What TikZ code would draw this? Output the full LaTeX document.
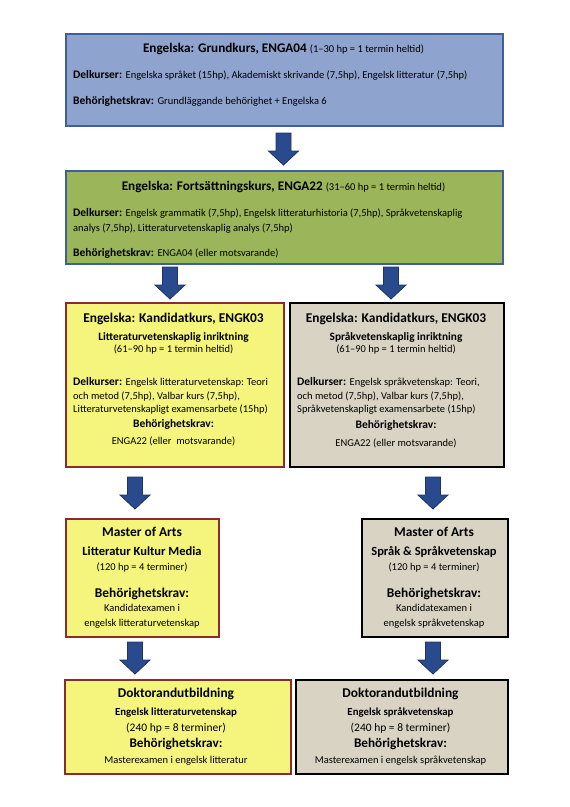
\documentclass[tikz,border=0pt]{standalone}
\usepackage{fontspec}
\setmainfont{Carlito}
\usetikzlibrary{calc}
\definecolor{bluefill}{HTML}{8EA3CD}
\definecolor{blueline}{HTML}{3F5E9E}
\definecolor{greenfill}{HTML}{9BB55A}
\definecolor{yelfill}{HTML}{F5F57D}
\definecolor{redline}{HTML}{8B2C2C}
\definecolor{beigefill}{HTML}{D9D3C3}
\definecolor{arrowfill}{HTML}{2A4A8E}
\definecolor{arrowline}{HTML}{1C3366}
\newcommand{\fs}[1]{\fontsize{#1}{#1}\selectfont}
\newcommand{\blockarrow}[1]{%
  \draw[blockarrow] (#1) ++(-7.5,0) -- ++(15,0) -- ++(0,18) -- ++(7.5,0)
    -- ++(-15,14) -- ++(-15,-14) -- ++(7.5,0) -- cycle;}
\begin{document}
\begin{tikzpicture}[x=1pt,y=-1pt,
  box/.style={draw, line width=1.6pt, inner sep=0pt, anchor=north west},
  bluebox/.style={box, fill=bluefill, draw=blueline},
  greenbox/.style={box, fill=greenfill, draw=blueline},
  yelbox/.style={box, fill=yelfill, draw=redline},
  beigebox/.style={box, fill=beigefill, draw=black},
  txt/.style={anchor=base, inner sep=0pt},
  ltxt/.style={anchor=base west, inner sep=0pt},
  blockarrow/.style={fill=arrowfill, draw=arrowline, line width=0.8pt, line join=miter}
]
\useasboundingbox (0,0) rectangle (570,807);

% boxes
\node[bluebox, minimum width=437pt, minimum height=92pt] (b1) at (65,33) {};
\node[greenbox, minimum width=437pt, minimum height=93pt] (b2) at (65,170) {};
\node[yelbox, minimum width=218pt, minimum height=164pt] (k1) at (65,302) {};
\node[beigebox, minimum width=214pt, minimum height=164pt] (k2) at (289,302) {};
\node[yelbox, minimum width=153pt, minimum height=118pt] (m1) at (65,518) {};
\node[beigebox, minimum width=146pt, minimum height=118pt] (m2) at (361,518) {};
\node[yelbox, minimum width=226pt, minimum height=94pt] (d1) at (64,679) {};
\node[beigebox, minimum width=212pt, minimum height=94pt] (d2) at (295,679) {};

% box 1
\node[txt] (b1t) at (283.5,52.5) {\fs{13.2}\bfseries Engelska: Grundkurs, ENGA04 \fs{10.5}\mdseries(1–30 hp = 1 termin heltid)};
\node[ltxt] (b1d) at (73,78.5) {\fs{11.5}\textbf{Delkurser:} \fs{10.5}Engelska språket (15hp), Akademiskt skrivande (7,5hp), Engelsk litteratur (7,5hp)};
\node[ltxt] (b1b) at (73,104.5) {\fs{11.5}\textbf{Behörighetskrav:} \fs{10.5}Grundläggande behörighet + Engelska 6};

% box 2
\node[txt] (b2t) at (283.5,190.5) {\fs{13.2}\bfseries Engelska: Fortsättningskurs, ENGA22 \fs{10.5}\mdseries(31–60 hp = 1 termin heltid)};
\node[ltxt] (b2d) at (73,216.5) {\fs{11.5}\textbf{Delkurser:} \fs{10.5}Engelsk grammatik (7,5hp), Engelsk litteraturhistoria (7,5hp), Språkvetenskaplig};
\node[ltxt] (b2e) at (73,231.5) {\fs{10.5}analys (7,5hp), Litteraturvetenskaplig analys (7,5hp)};
\node[ltxt] (b2b) at (73,256.5) {\fs{11.5}\textbf{Behörighetskrav:} \fs{10.5}ENGA04 (eller motsvarande)};

% kandidat left
\node[txt] (k1t) at (173.5,322.5) {\fs{13.4}\bfseries Engelska: Kandidatkurs, ENGK03};
\node[txt] (k1s) at (173.5,340) {\fs{11.3}\bfseries Litteraturvetenskaplig inriktning};
\node[txt] (k1h) at (173.5,352.5) {\fs{10.5}(61–90 hp = 1 termin heltid)};
\node[ltxt] (k1d1) at (73,385.5) {\fs{11.5}\textbf{Delkurser:} \fs{10.5}Engelsk litteraturvetenskap: Teori};
\node[ltxt] (k1d2) at (73,399) {\fs{10.5}och metod (7,5hp), Valbar kurs (7,5hp),};
\node[ltxt] (k1d3) at (73,412.5) {\fs{10.5}Litteraturvetenskapligt examensarbete (15hp)};
\node[txt] (k1b) at (173.5,427) {\fs{11.5}\bfseries Behörighetskrav:};
\node[txt] (k1e) at (173.5,444.5) {\fs{10.5}ENGA22 (eller\ \ motsvarande)};

% kandidat right
\node[txt] (k2t) at (396,322.5) {\fs{13.4}\bfseries Engelska: Kandidatkurs, ENGK03};
\node[txt] (k2s) at (396,340) {\fs{11.3}\bfseries Språkvetenskaplig inriktning};
\node[txt] (k2h) at (396,352.5) {\fs{10.5}(61–90 hp = 1 termin heltid)};
\node[ltxt] (k2d1) at (297,385.5) {\fs{11.5}\textbf{Delkurser:} \fs{10.5}Engelsk språkvetenskap: Teori,};
\node[ltxt] (k2d2) at (297,399) {\fs{10.5}och metod (7,5hp), Valbar kurs (7,5hp),};
\node[ltxt] (k2d3) at (297,412.5) {\fs{10.5}Språkvetenskapligt examensarbete (15hp)};
\node[txt] (k2b) at (396,428.5) {\fs{11.5}\bfseries Behörighetskrav:};
\node[txt] (k2e) at (396,446) {\fs{10.5}ENGA22 (eller motsvarande)};

% master left
\node[txt] (m1t) at (142,536.5) {\fs{13.4}\bfseries Master of Arts};
\node[txt] (m1s) at (142,555) {\fs{12.5}\bfseries Litteratur Kultur Media};
\node[txt] (m1h) at (142,570.5) {\fs{10.5}(120 hp = 4 terminer)};
\node[txt] (m1b) at (142,597.5) {\fs{13.4}\bfseries Behörighetskrav:};
\node[txt] (m1e) at (142,611.5) {\fs{10.5}Kandidatexamen i};
\node[txt] (m1f) at (142,626.5) {\fs{10.5}engelsk litteraturvetenskap};

% master right
\node[txt] (m2t) at (434,536.5) {\fs{13.4}\bfseries Master of Arts};
\node[txt] (m2s) at (434,555) {\fs{12.5}\bfseries Språk \& Språkvetenskap};
\node[txt] (m2h) at (434,570.5) {\fs{10.5}(120 hp = 4 terminer)};
\node[txt] (m2b) at (434,597.5) {\fs{13.4}\bfseries Behörighetskrav:};
\node[txt] (m2e) at (434,611.5) {\fs{10.5}Kandidatexamen i};
\node[txt] (m2f) at (434,626.5) {\fs{10.5}engelsk språkvetenskap};

% doktor left
\node[txt] (d1t) at (176,697.5) {\fs{13.4}\bfseries Doktorandutbildning};
\node[txt] (d1s) at (176,715.5) {\fs{10.8}\bfseries Engelsk litteraturvetenskap};
\node[txt] (d1h) at (176,731.5) {\fs{11.5}(240 hp = 8 terminer)};
\node[txt] (d1b) at (176,747.5) {\fs{13.2}\bfseries Behörighetskrav:};
\node[txt] (d1e) at (176,763.5) {\fs{10.5}Masterexamen i engelsk litteratur};

% doktor right
\node[txt] (d2t) at (400.5,697.5) {\fs{13.4}\bfseries Doktorandutbildning};
\node[txt] (d2s) at (400.5,715.5) {\fs{10.8}\bfseries Engelsk språkvetenskap};
\node[txt] (d2h) at (400.5,731.5) {\fs{11.5}(240 hp = 8 terminer)};
\node[txt] (d2b) at (400.5,747.5) {\fs{13.2}\bfseries Behörighetskrav:};
\node[txt] (d2e) at (400.5,763.5) {\fs{10.5}Masterexamen i engelsk språkvetenskap};

% block arrows
\coordinate (a1) at (283.5,133);
\coordinate (a2l) at (170,267);
\coordinate (a2r) at (391,267);
\coordinate (a3l) at (135,477);
\coordinate (a3r) at (433,477);
\coordinate (a4l) at (135,642);
\coordinate (a4r) at (433,642);
\blockarrow{a1}
\blockarrow{a2l}
\blockarrow{a2r}
\blockarrow{a3l}
\blockarrow{a3r}
\blockarrow{a4l}
\blockarrow{a4r}
\end{tikzpicture}
\end{document}
